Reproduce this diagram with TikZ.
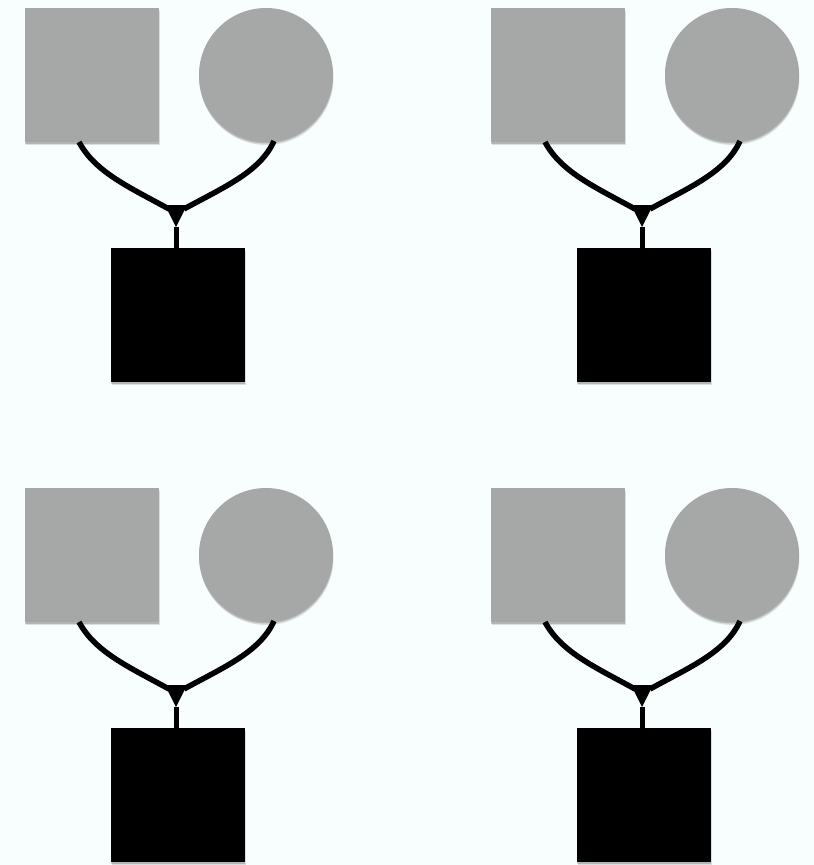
\documentclass[tikz,border=0pt]{standalone}
\usetikzlibrary{calc,shadows}
\definecolor{bgcol}{HTML}{F8FDFD}
\definecolor{parentgray}{HTML}{A5A8A7}
\tikzset{
  softshadow/.style={
    general shadow={shadow xshift=0pt, shadow yshift=-1.5pt, fill=black, opacity=0.18},
    general shadow={shadow xshift=0.5pt, shadow yshift=-3pt, fill=black, opacity=0.12}},
  fathersq/.style={rectangle, fill=parentgray, minimum size=134pt, inner sep=0pt, outer sep=0pt, softshadow},
  mothercirc/.style={circle, fill=parentgray, minimum size=134pt, inner sep=0pt, outer sep=0pt, softshadow},
  childsq/.style={rectangle, fill=black, minimum size=134pt, inner sep=0pt, outer sep=0pt, softshadow},
  link/.style={line width=5.5pt, black},
  stem/.style={line width=5pt, black},
}
\begin{document}
\begin{tikzpicture}[x=1pt,y=-1pt]
  \fill[bgcol] (0,0) rectangle (814,865);
  \useasboundingbox (0,0) rectangle (814,865);
  \foreach \dx/\dy [count=\k] in {0/0, 466/0, 0/480, 466/480} {
    \begin{scope}[shift={(\dx,\dy)}]
      \node[fathersq] (f\k) at (92,75) {};
      \node[mothercirc] (m\k) at (266,75) {};
      \node[childsq] (c\k) at (178,315) {};
      \coordinate (j\k) at (176,205);
      \coordinate (jl\k) at ($(j\k)+(-7,4)$);
      \coordinate (jr\k) at ($(j\k)+(8,4)$);
      \coordinate (jt\k) at ($(j\k)+(0,22)$);
      % mating lines from both parents
      \draw[link] ($(f\k.south west)+(54,0)$) .. controls ($(f\k.south west)+(70,30)$) and ($(jl\k)+(-40,-22)$) .. (jl\k);
      \draw[link] ($(m\k.south)+(8,-1)$) .. controls ($(m\k.south)+(-6,30)$) and ($(jr\k)+(40,-22)$) .. (jr\k);
      % junction marker
      \fill[black] ($(j\k)+(-11,0)$) -- ($(j\k)+(11,0)$) -- (jt\k) -- cycle;
      % line of descent
      \draw[stem] (jt\k) -- (c\k.north -| jt\k);
    \end{scope}
  }
\end{tikzpicture}
\end{document}
